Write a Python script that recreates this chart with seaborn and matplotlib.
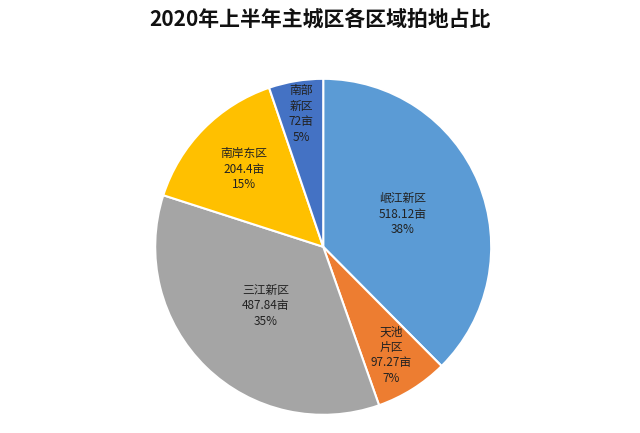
import numpy as np
import matplotlib.pyplot as plt
import seaborn as sns

cjk = ["Noto Sans CJK JP", "Noto Sans CJK SC", "Noto Sans CJK TC", "Noto Sans CJK KR", "DejaVu Sans"]
sns.set_theme(style="white")
plt.rcParams["font.family"] = cjk

names = ["岷江新区", "天池\n片区", "三江新区", "南岸东区", "南部\n新区"]
areas = [518.12, 97.27, 487.84, 204.4, 72]
area_txt = ["518.12亩", "97.27亩", "487.84亩", "204.4亩", "72亩"]
pcts = ["38%", "7%", "35%", "15%", "5%"]
colors = ["#5B9BD5", "#ED7D31", "#A5A5A5", "#FFC000", "#4472C4"]
label_r = [0.51, 0.76, 0.49, 0.66, 0.80]

fig = plt.figure(figsize=(6.4, 4.33), dpi=100)
ax = fig.add_axes([0.505 - 0.2625, 0.43 - 0.388, 0.525, 0.776])
wedges, _ = ax.pie(areas, colors=colors, startangle=90, counterclock=False,
                   wedgeprops=dict(edgecolor="white", linewidth=1.5))
for w, n, a, p, r in zip(wedges, names, area_txt, pcts, label_r):
    ang = np.deg2rad((w.theta1 + w.theta2) / 2)
    ax.text(r * np.cos(ang), r * np.sin(ang), f"{n}\n{a}\n{p}",
            ha="center", va="center", fontsize=8.5, color="#222222", linespacing=1.25)
ax.set_xlim(-1, 1)
ax.set_ylim(-1, 1)
ax.set_aspect("equal")
fig.text(0.5, 0.955, "2020年上半年主城区各区域拍地占比", ha="center", va="center",
         fontsize=15, fontweight="bold", color="#111111")
fig.savefig("out.png", dpi=100)
